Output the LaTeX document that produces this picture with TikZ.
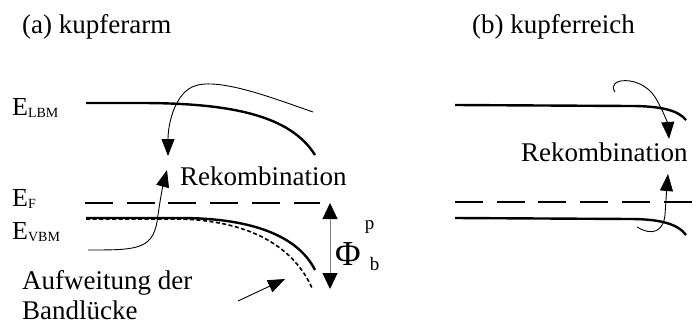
\documentclass[tikz,border=0pt]{standalone}
\usepackage{fontspec}
\setmainfont{Liberation Serif}
\usetikzlibrary{arrows.meta}
\tikzstyle{band} = [line width=2.4pt]
\tikzstyle{fermi} = [line width=2.4pt, dash pattern=on 28pt off 13.7pt]
\tikzstyle{widened} = [line width=1.6pt, dash pattern=on 4pt off 2.5pt]
\tikzstyle{arrow} = [line width=0.9pt, -{Triangle[length=17pt,width=13pt]}]
\tikzstyle{txt} = [inner sep=0pt, anchor=base west, font=\fontsize{27}{31}\selectfont]
\tikzstyle{energy} = [inner sep=0pt, anchor=base west, font=\fontsize{26}{30}\selectfont]
\newcommand{\lvlsub}[1]{\raisebox{-2pt}{\fontsize{14}{14}\selectfont #1}}
\newcommand{\phisize}{\fontsize{19}{19}\selectfont}

\begin{document}
\begin{tikzpicture}[x=1pt,y=-1pt]
    \useasboundingbox (0,0) rectangle (698,324);
    \node[txt] (titleA) at (22,33) {(a) kupferarm};
    \node[txt] (titleB) at (472,33) {(b) kupferreich};

    % Level labels
    \node[energy] (elbm) at (12,115) {E\lvlsub{LBM}};
    \node[energy] (ef) at (12,206) {E\lvlsub{F}};
    \node[energy] (evbm) at (12,239) {E\lvlsub{VBM}};

    % Bands (a)
    \draw[band] (86,103) -- (140,103) .. controls (230,103) and (290,115) .. (315,155);
    \draw[fermi] (85,203) -- (320,203);
    \draw[widened] (86,219) -- (180,219) .. controls (255,221) and (295,250) .. (312,288);
    \draw[band] (86,218) -- (180,218) .. controls (260,218) and (300,240) .. (315,270);

    % Recombination (a)
    \coordinate (downA0) at (313,112);
    \coordinate (downA1) at (168,156);
    \coordinate (upA0) at (88,250);
    \coordinate (upA1) at (167,170);
    \draw[arrow] (downA0) .. controls (270,97) and (215,76) .. (192,87) .. controls (174,96) and (168,125) .. (downA1);
    \draw[arrow] (upA0) .. controls (135,250) and (152,250) .. (157,222) .. controls (160,200) and (163,185) .. (upA1);
    \node[txt] (rekombA) at (180,185) {Rekombination};

    \node[txt] (aufw) at (22,289) {Aufweitung der};
    \node[txt] (aufwB) at (22,319) {Bandlücke};
    \coordinate (aufw0) at (238,301);
    \coordinate (aufw1) at (285,279);
    \draw[arrow] (aufw0) -- (aufw1);

    % Barrier
    \coordinate (phiTop) at (330,203);
    \coordinate (phiBot) at (330,289);
    \draw[gray, line width=1pt, {Triangle[length=16pt,width=15pt,color=black]}-{Triangle[length=16pt,width=15pt,color=black]}] (phiTop) -- (phiBot);
    \node[inner sep=0pt, anchor=base west] (phi) at (335,265) {\fontsize{35}{35}\selectfont Φ\hspace{4pt}\rlap{\raisebox{36pt}{\phisize p}}\hspace{5pt}\raisebox{-5pt}{\phisize b}};

    % Bands (b)
    \draw[band] (455,105) -- (630,106) .. controls (660,106) and (678,110) .. (686,120);
    \draw[fermi] (455,202) -- (692,202);
    \draw[band] (455,218) -- (630,219) .. controls (660,219) and (678,224) .. (686,235);

    % Recombination (b)
    \coordinate (downB0) at (615,92);
    \coordinate (downB1) at (669,139);
    \coordinate (upB0) at (637,227);
    \coordinate (upB1) at (668,174);
    \draw[arrow] (downB0) .. controls (605,78) and (640,74) .. (655,97) .. controls (663,110) and (668,125) .. (downB1);
    \draw[arrow] (upB0) .. controls (652,236) and (663,232) .. (665,215) .. controls (666,200) and (667,185) .. (upB1);
    \node[txt] (rekombB) at (521,161) {Rekombination};
\end{tikzpicture}
\end{document}
